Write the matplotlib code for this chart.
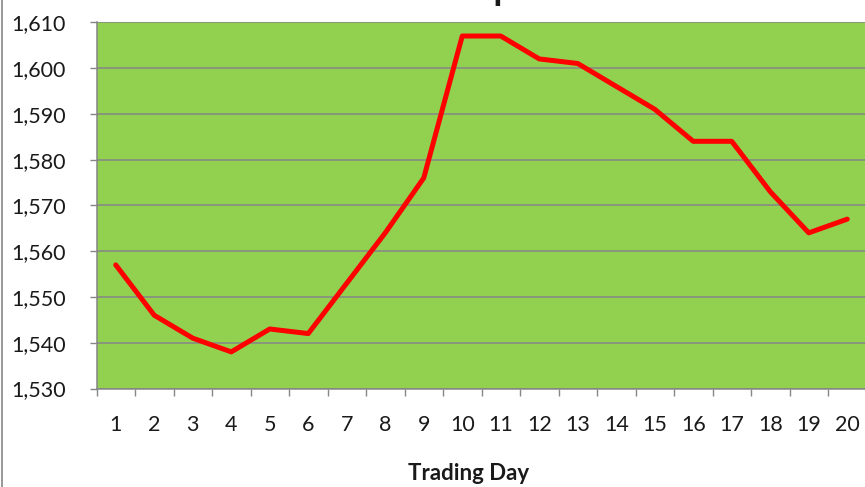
import numpy as np
import matplotlib.pyplot as plt
from matplotlib.ticker import StrMethodFormatter
from matplotlib.lines import Line2D

days = list(range(1, 21))
price = [1557, 1546, 1541, 1538, 1543, 1542, 1553, 1564, 1576, 1607,
         1607, 1602, 1601, 1596, 1591, 1584, 1584, 1573, 1564, 1567]
yticks = list(range(1530, 1611, 10))

plt.rcParams['font.family'] = ['Lato', 'DejaVu Sans']

fig = plt.figure(figsize=(8.65, 4.87), dpi=100)
ax = fig.add_axes([96.5 / 865, 98.5 / 487, 770 / 865, 366.2 / 487])

ax.set_facecolor('#92D050')
ax.plot(days, price, color='#FF0000', lw=3.6, solid_joinstyle='round',
        solid_capstyle='round', zorder=3)

ax.set_xlim(0.5, 20.5)
ax.set_ylim(1530, 1610)
ax.set_yticks(yticks)
ax.yaxis.set_major_formatter(StrMethodFormatter('{x:,.0f}'))
ax.grid(axis='y', color='#868686', lw=1.1, zorder=1)
ax.set_axisbelow(True)

ax.set_xticks(days)
ax.set_xticks(np.arange(0.5, 21, 1), minor=True)
ax.tick_params(axis='x', which='major', length=0, pad=19, labelsize=15.5,
               labelcolor='#1a1a1a')
ax.tick_params(axis='x', which='minor', length=5, width=1, color='#868686')
ax.tick_params(axis='y', length=5, width=1, color='#868686', pad=17,
               labelsize=15.5, labelcolor='#1a1a1a')

for s in ['top', 'right']:
    ax.spines[s].set_visible(False)
for s in ['left', 'bottom']:
    ax.spines[s].set_color('#868686')
    ax.spines[s].set_linewidth(1.1)

fig.text(469 / 865, 1 - 474 / 487, 'Trading Day', ha='center', va='center',
         fontsize=16, fontweight='bold', color='#1a1a1a')
# chart title sits mostly above the visible area, as in the reference
fig.text(408 / 865, 1.0, 'Gold price', ha='left', va='baseline',
         fontsize=26, fontweight='bold', color='#1a1a1a')

fig.add_artist(Line2D([1.7 / 865, 1.7 / 865], [0, 1], color='#868686', lw=1.2))

fig.savefig('out.png', dpi=100)
